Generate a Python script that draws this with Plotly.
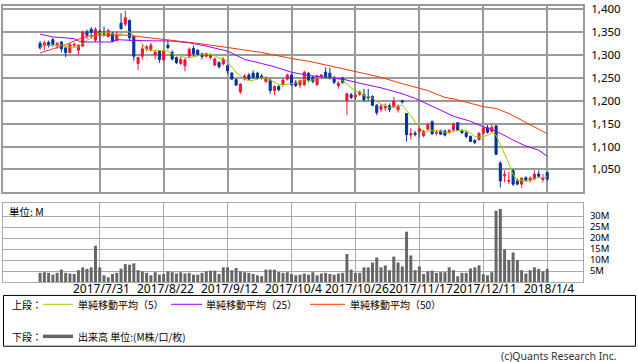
import plotly.graph_objects as go
import pandas as pd

# ---------------- data ----------------
holidays = ['2017-07-17', '2017-08-11', '2017-09-18', '2017-10-09', '2017-11-03',
            '2017-11-23', '2018-01-01', '2018-01-02', '2018-01-03']
dates = pd.bdate_range('2017-07-10', '2018-01-04', freq='C', holidays=holidays)
labels = [f"{d.year}/{d.month}/{d.day}" for d in dates]

opens = [1325,1321,1327,1333,1320,1328,1315,1305,1321,1310,
         1319,1350,1356,1332,1351,1349,1340,1346,1331,1369,
         1367,1375,1340,1281,1297,1313,1312,1300,1308,1289,
         1321,1305,1294,1281,1276,1297,1314,1310,1302,1297,
         1294,1278,1283,1280,1276,1260,1246,1219,1247,1256,
         1260,1260,1254,1242,1245,1222,1231,1235,1247,1256,
         1240,1234,1235,1260,1251,1235,1251,1262,1260,1251,
         1233,1249,1200,1213,1208,1214,1213,1209,1209,1190,
         1181,1184,1189,1187,1180,1200,1172,1125,1129,1133,
         1124,1138,1154,1129,1134,1134,1132,1136,1152,1135,
         1130,1122,1113,1115,1129,1141,1133,1145,1064,1036,
         1024,1047,1025,1018,1032,1027,1029,1040,1028,1043]
highs = [1330,1331,1331,1337,1328,1330,1318,1325,1326,1323,
         1353,1355,1360,1360,1355,1362,1357,1350,1350,1391,
         1396,1377,1342,1296,1322,1322,1326,1310,1310,1310,
         1332,1310,1296,1296,1292,1316,1320,1312,1305,1305,
         1303,1294,1286,1295,1279,1263,1248,1238,1258,1260,
         1266,1263,1258,1253,1248,1233,1234,1248,1259,1258,
         1245,1246,1265,1262,1254,1257,1258,1273,1272,1254,
         1242,1252,1217,1217,1220,1222,1226,1226,1212,1193,
         1193,1194,1194,1208,1192,1202,1172,1140,1134,1142,
         1136,1152,1157,1136,1137,1137,1138,1152,1152,1138,
         1134,1124,1116,1131,1145,1147,1149,1146,1068,1048,
         1045,1050,1030,1033,1035,1035,1048,1048,1040,1045]
lows = [1312,1310,1316,1318,1313,1305,1295,1303,1315,1299,
        1317,1335,1335,1328,1330,1340,1338,1328,1329,1355,
        1362,1330,1287,1267,1289,1308,1308,1290,1282,1287,
        1312,1288,1280,1278,1264,1294,1296,1298,1290,1294,
        1290,1275,1270,1277,1258,1245,1232,1215,1244,1245,
        1248,1246,1246,1238,1215,1212,1220,1230,1244,1232,
        1230,1228,1232,1240,1238,1232,1248,1248,1246,1236,
        1226,1237,1168,1203,1202,1210,1198,1200,1188,1168,
        1175,1178,1175,1184,1174,1194,1111,1115,1122,1120,
        1120,1134,1125,1124,1125,1122,1128,1133,1134,1128,
        1118,1110,1105,1113,1127,1128,1130,1082,1011,1022,
        1018,1014,1016,1010,1024,1022,1027,1032,1022,1025]
closes = [1315,1326,1320,1323,1325,1313,1305,1322,1323,1321,
          1349,1343,1349,1355,1346,1346,1353,1330,1342,1357,
          1381,1337,1297,1294,1313,1317,1321,1306,1290,1308,
          1316,1291,1283,1290,1289,1312,1303,1301,1296,1302,
          1300,1291,1274,1290,1265,1247,1234,1236,1254,1247,
          1251,1249,1250,1251,1222,1231,1224,1245,1256,1235,
          1233,1244,1262,1244,1242,1254,1256,1251,1249,1240,
          1238,1240,1215,1207,1212,1219,1202,1206,1190,1174,
          1188,1188,1181,1199,1188,1197,1126,1128,1126,1138,
          1133,1147,1128,1131,1127,1125,1135,1149,1136,1130,
          1122,1111,1109,1129,1140,1131,1142,1083,1025,1039,
          1026,1018,1018,1031,1027,1031,1040,1035,1031,1029]
volume_m = [4.2,4.5,4.2,3.4,4.2,5.7,4.2,3.9,3.7,5.4,
            6.7,6.0,6.7,16.5,6.7,3.1,2.2,3.7,4.2,6.1,
            8.2,7.9,8.5,5.4,4.9,4.2,3.1,4.5,3.4,3.7,
            4.9,4.5,3.9,4.5,3.9,4.2,3.4,3.4,4.2,4.9,
            5.2,5.2,3.7,6.7,6.7,5.4,6.4,4.9,4.5,4.2,
            3.7,3.1,2.7,5.7,5.7,5.7,4.6,4.2,4.5,3.7,
            3.1,3.4,3.9,3.4,4.5,3.1,3.9,4.2,3.7,3.4,
            3.9,4.2,12.8,5.7,4.2,4.2,6.7,6.7,8.9,11.2,
            6.7,7.6,5.4,11.6,8.9,7.1,22.8,12.1,5.4,7.1,
            3.7,4.9,5.2,4.2,4.5,4.5,6.7,5.4,2.7,4.2,
            4.2,6.2,6.7,7.6,3.6,3.1,4.5,32.4,33.2,14.9,
            10.1,13.4,10.1,5.4,3.9,5.4,6.7,6.0,4.9,6.0]

# moving averages (25 / 50 need history before the window)
ma25_idx = [0,3,6,8,9,11,17,18,23,31,35,39,44,48,52,55,59,63,67,71,76,80,85,88,92,95,97,101,104,106,108,111,114,117,119]
ma25_val = [1345,1339,1337,1335,1330,1328,1328,1333,1331,1330,1326,1319,1308,1290,1281,1274,1262,1255,1251,1247,1236,1228,1215,1205,1188,1174,1166,1155,1143,1137,1129,1114,1101,1092,1079]
ma50_idx = [0,3,6,9,11,13,20,23,26,31,37,44,48,52,59,63,68,72,80,85,88,91,95,97,104,107,110,112,114,119]
ma50_val = [1304,1313,1322,1334,1340,1343,1343,1340,1337,1332,1325,1316,1310,1305,1292,1286,1276,1268,1251,1237,1230,1222,1207,1204,1187,1183,1172,1162,1153,1128]

price_ticks = [1050, 1100, 1150, 1200, 1250, 1300, 1350, 1400]
vol_ticks = [5, 10, 15, 20, 25, 30]
tick_every = 15
tick_start = 14

ma5 = pd.Series(closes).rolling(5, min_periods=1).mean().tolist()

# ---------------- figure ----------------
W, H = 638, 362
def PX(x): return x / W
def PY(y): return 1 - y / H

RED = "#f0143c"
BLUE = "#003399"
CJK = "Noto Sans CJK JP"
LAT = "Noto Sans"

fig = go.Figure()
fig.add_trace(go.Candlestick(
    x=labels, open=opens, high=highs, low=lows, close=closes,
    increasing=dict(line=dict(color=RED, width=1), fillcolor=RED),
    decreasing=dict(line=dict(color=BLUE, width=1), fillcolor=BLUE),
    whiskerwidth=0, xaxis="x", yaxis="y", hoverinfo="skip"))
fig.add_trace(go.Scatter(x=labels, y=ma5, mode="lines",
                         line=dict(color="#99cc00", width=1), xaxis="x", yaxis="y"))
fig.add_trace(go.Scatter(x=[labels[i] for i in ma25_idx], y=ma25_val, mode="lines",
                         line=dict(color="#9900ff", width=1), xaxis="x", yaxis="y"))
fig.add_trace(go.Scatter(x=[labels[i] for i in ma50_idx], y=ma50_val, mode="lines",
                         line=dict(color="#ff3300", width=1), xaxis="x", yaxis="y"))
fig.add_trace(go.Bar(x=labels, y=volume_m, marker=dict(color="#666666", line=dict(width=0)),
                     xaxis="x2", yaxis="y2"))

tickvals = labels[tick_start::tick_every]
xr = [-8.7, 127.4]
grid_c = "#9a9a9a"

fig.update_layout(
    width=W, height=H, margin=dict(l=0, r=0, t=0, b=0),
    paper_bgcolor="white", plot_bgcolor="white", showlegend=False,
    bargap=0.3,
    font=dict(family=CJK, size=11, color="#000"),
    xaxis=dict(type="category", domain=[PX(3), PX(583)], range=xr, anchor="y",
               tickvals=tickvals, showticklabels=False, ticks="",
               showgrid=True, gridcolor=grid_c, gridwidth=2,
               showline=True, linecolor=grid_c, linewidth=2, mirror=True,
               rangeslider=dict(visible=False), zeroline=False),
    yaxis=dict(domain=[PY(190), PY(1)], range=[1000, 1406.5], anchor="x", side="right",
               tickvals=price_ticks, tickformat=",d",
               ticks="outside", ticklen=4, tickcolor="rgba(0,0,0,0)",
               ticklabeloverflow="allow",
               tickfont=dict(family=LAT, size=11.5, color="#000"),
               showgrid=True, gridcolor=grid_c, gridwidth=2,
               showline=True, linecolor=grid_c, linewidth=2, mirror=True, zeroline=False),
    xaxis2=dict(type="category", domain=[PX(3), PX(583)], range=xr, anchor="y2", matches="x",
                tickvals=tickvals, showticklabels=False, ticks="",
                showgrid=True, gridcolor="#aaaaaa", gridwidth=1,
                showline=True, linecolor="#aaaaaa", linewidth=1, mirror=True, zeroline=False),
    yaxis2=dict(domain=[PY(281), PY(201)], range=[0, 35.8], anchor="x2", side="right",
                tickvals=vol_ticks, ticktext=[f"{v}M" for v in vol_ticks],
                ticks="outside", ticklen=4, tickcolor="rgba(0,0,0,0)",
                ticklabeloverflow="allow",
                tickfont=dict(family=LAT, size=9.5, color="#000"),
                showgrid=True, gridcolor="#aaaaaa", gridwidth=1,
                showline=True, linecolor="#aaaaaa", linewidth=1, mirror=True, zeroline=False),
)

shapes = [
    dict(type="rect", xref="paper", yref="paper", x0=PX(3.5), x1=PX(635.5), y0=PY(346), y1=PY(294.5),
         line=dict(color="#000", width=1)),
    dict(type="line", xref="paper", yref="paper", x0=PX(43), x1=PX(73), y0=PY(303.5), y1=PY(303.5),
         line=dict(color="#99cc00", width=1)),
    dict(type="line", xref="paper", yref="paper", x0=PX(171), x1=PX(202), y0=PY(303.5), y1=PY(303.5),
         line=dict(color="#9900ff", width=1)),
    dict(type="line", xref="paper", yref="paper", x0=PX(310), x1=PX(345), y0=PY(303.5), y1=PY(303.5),
         line=dict(color="#ff3300", width=1)),
    dict(type="line", xref="paper", yref="paper", x0=PX(43), x1=PX(73), y0=PY(336), y1=PY(336),
         line=dict(color="#666666", width=3.5)),
]
fig.update_layout(shapes=shapes)

# date labels under the volume panel (placed at the category positions)
for t in tickvals:
    fig.add_annotation(text=t, xref="x2", yref="paper", x=t, y=PY(287),
                       xanchor="center", yanchor="middle", showarrow=False, xshift=1.5,
                       font=dict(family=LAT, size=12, color="#000"), borderpad=0)

def note(text, x, y, size=10, color="#000", family=CJK):
    fig.add_annotation(text=text, xref="paper", yref="paper", x=PX(x), y=PY(y),
                       xanchor="left", yanchor="middle", showarrow=False,
                       font=dict(family=family, size=size, color=color), borderpad=0)

note("上段：", 11, 303.5)
note("単純移動平均（5）", 77, 303.5)
note("単純移動平均（25）", 205, 303.5)
note("単純移動平均（50）", 349, 303.5)
note("下段：", 11, 336)
note("出来高 単位:(M株/口/枚)", 77, 336)
note("単位: M", 8, 209.5, size=10.5)
note("(c)Quants Research Inc.", 500, 355.5, size=10.5, color="#333", family=LAT)

fig.write_html("out.html", config={"displayModeBar": False},
               post_script="document.body.style.margin='0';document.body.style.overflow='hidden';")
